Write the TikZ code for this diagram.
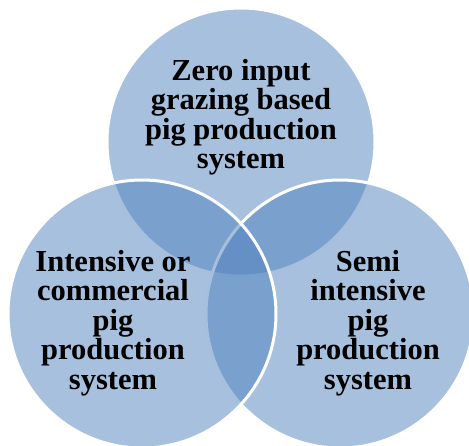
\documentclass[tikz,border=0pt]{standalone}
\usepackage{fontspec}
\setmainfont{Liberation Serif}
\definecolor{vennblue}{HTML}{4F81BD}
\begin{document}
\begin{tikzpicture}[x=1pt, y=-1pt,
    venn/.style = {draw=white, line width=3pt, circle, fill=vennblue, fill opacity=0.5, minimum size=268pt, inner sep=0pt, outer sep=0pt},
    label/.style = {align=center, font=\fontsize{30.5pt}{29.5pt}\selectfont\bfseries, text=black}]
    \useasboundingbox (0,0) rectangle (469,445);
    \clip (0,0) rectangle (469,445);
    \node[venn] (zero) at (241,142) {};
    \node[venn] (semi) at (340,314) {};
    \node[venn] (intensive) at (142,314) {};
    \node[label] (zeroText) at (241,117) {Zero input\\grazing based\\pig production\\system};
    \node[label] (intensiveText) at (113,323) {Intensive or\\commercial\\pig\\production\\system};
    \node[label] (semiText) at (368,323) {Semi\\intensive\\pig\\production\\system};
\end{tikzpicture}
\end{document}
